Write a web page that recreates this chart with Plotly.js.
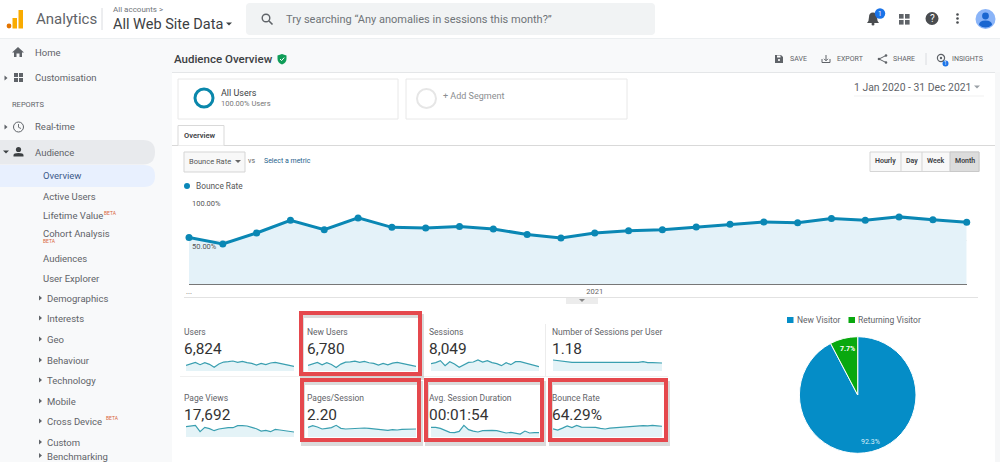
<!DOCTYPE html>
<html><head><meta charset="utf-8">
<script src="https://cdn.plot.ly/plotly-3.0.1.min.js"></script>
<style>html,body{margin:0;padding:0;background:#fff;overflow:hidden}#g{width:1000px;height:462px}</style>
</head><body><div id="g"></div>
<script>
// ---- chart data ----
const bounceRate = [53.8,46.2,59,73.6,62.8,76.4,65.5,64.8,66.6,63.6,57.3,53.1,59,61.6,62.8,65.9,69,71.7,70.9,75.6,73.6,77.6,74.4,71.3];
const users = [209,271,320,234,308,246,135,258,332,345,369,320,357,308,283,221,283,234,295,320,271,246,209,172];
const newUsers = [205,268,315,230,305,242,132,255,330,340,365,318,352,305,280,218,280,230,292,318,268,243,205,170];
const sessions = [315,358,443,229,400,300,157,272,372,386,472,386,443,358,315,229,358,272,400,400,343,286,243,186];
const sessionsPerUser = [1.53,1.44,1.39,1.25,1.20,1.20,1.20,1.20,1.20,1.16,1.16,1.16,1.16,1.11,1.11,1.11,1.11,1.11,1.20,1.30,1.16,1.16,1.16,1.11];
const pageViews = [918,1006,1036,474,858,740,562,710,799,829,829,1006,1006,977,858,740,533,592,474,681,622,562,474,444];
const pagesPerSession = [2.44,2.87,2.53,2.02,2.19,2.36,2.95,2.19,2.02,2.11,2.28,2.28,2.28,2.19,2.11,2.02,1.85,1.69,1.85,1.77,1.94,1.94,2.02,2.02];
const avgDuration = [183,183,164,120,88,82,107,221,139,113,95,120,126,126,120,101,76,88,69,57,113,76,82,82];
const months = bounceRate.map((_,i)=>i);
const xTickVals = [0,12];
const xTickText = ['...','2021'];
const yGridVals = [50,100];
const yGridText = ['50.00%','100.00%'];
const pieLabels = ['New Visitor','Returning Visitor'];
const pieValues = [92.3,7.7];
const metricNames = ['Users','New Users','Sessions','Number of Sessions per User','Page Views','Pages/Session','Avg. Session Duration','Bounce Rate'];
const metricTotals = ['6,824','6,780','8,049','1.18','17,692','2.20','00:01:54','64.29%'];
const metricSeries = [users,newUsers,sessions,sessionsPerUser,pageViews,pagesPerSession,avgDuration,bounceRate];
const metricMax = [703,703,817,2.64,1691,4.8,361,126];
const navTop = ['Home','Customisation','Real-time','Audience'];
const navSub = ['Overview','Active Users','Lifetime Value','Cohort Analysis','Audiences','User Explorer'];
const navDeep = ['Demographics','Interests','Geo','Behaviour','Technology','Mobile','Cross Device','Custom','Benchmarking'];
const rangeButtons = ['Hourly','Day','Week','Month'];
const pieColors = ['#058dc7','#09a80f'];

// ---- page furniture helpers (pixel coordinates on the overlay axes) ----
const shapes=[], notes=[];
const base={xref:'x',yref:'y',layer:'below'};
const rect=(x0,y0,x1,y1,fill,line,lw)=>shapes.push({...base,type:'rect',x0,y0,x1,y1,fillcolor:fill||'rgba(0,0,0,0)',line:{color:line||'rgba(0,0,0,0)',width:lw||0}});
const circ=(cx,cy,r,fill,line,lw)=>shapes.push({...base,type:'circle',x0:cx-r,y0:cy-r,x1:cx+r,y1:cy+r,fillcolor:fill||'rgba(0,0,0,0)',line:{color:line||'rgba(0,0,0,0)',width:lw||0}});
const path=(d,fill,line,lw)=>shapes.push({...base,type:'path',path:d,fillcolor:fill||'rgba(0,0,0,0)',line:{color:line||'rgba(0,0,0,0)',width:lw||0}});
const seg=(x0,y0,x1,y1,c,w)=>shapes.push({...base,type:'line',x0,y0,x1,y1,line:{color:c,width:w||1}});
const T=(text,x,y,size,color,o)=>notes.push({xref:'x',yref:'y',x,y,text,showarrow:false,xanchor:'left',yanchor:'middle',borderpad:0,borderwidth:0,
  font:{family:'Roboto, sans-serif',size,color:color||'#5f6368'},...(o||{})});
const triR=(x,y)=>path(`M${x-1.5} ${y-2.5}L${x+1.5} ${y}L${x-1.5} ${y+2.5}Z`,'#5f6368');
const triD=(x,y,c)=>path(`M${x-3} ${y-1.5}L${x+3} ${y-1.5}L${x} ${y+1.5}Z`,c||'#5f6368');

// backgrounds
rect(0,38,172,462,'#f8f9fa');
rect(172,38,1000,72,'#f8f9fa');
rect(995,72,1000,462,'#f6f7f8');
seg(0,38.5,1000,38.5,'#eceff1',1);
seg(172,72.5,995,72.5,'#e4e6e8',1);
path('M0 140H143Q155 140 155 152Q155 164.5 143 164.5H0Z','#e8eaed');
path('M0 165H144Q155 165 155 176Q155 187 144 187H0Z','#e8f0fe');

// top bar
circ(9,26,2.4,'#e37400');
rect(12.5,18,17,28.5,'#f9ab00');
rect(18.5,10,23,28.5,'#f9ab00');
T('Analytics',36,19,15,'#5f6368');
seg(102,8,102,30,'#dadce0',1);
T('All accounts &gt;',113,9,8,'#70757a');
T('All Web Site Data',113,24,14.5,'#3c4043');
triD(229,24,'#3c4043');
path('M250 3H651Q655 3 655 7V31Q655 35 651 35H250Q246 35 246 31V7Q246 3 250 3Z','#f1f3f4');
circ(266,18,3.8,null,'#5f6368',1.4);
seg(269,21,272.5,24.5,'#5f6368',1.6);
T('Try searching “Any anomalies in sessions this month?”',286,19,11,'#6f7478');
// right icons
path('M867 23Q869 21 869 17Q869 12.5 873 12.5Q877 12.5 877 17Q877 21 879 23Z','#4a4d50');
circ(873,24,1.5,'#4a4d50');
circ(880,13.5,5.2,'#1a73e8');
T('1',880,13.5,6.5,'#fff',{xanchor:'center'});
[[899,14],[905,14],[899,20],[905,20]].forEach(p=>rect(p[0],p[1],p[0]+4.6,p[1]+4.6,'#5f6368'));
circ(932,18.5,6.5,'#4a4d50');
T('?',932,18.5,10,'#fff',{xanchor:'center'});
[14.5,18.5,22.5].forEach(y=>circ(957.5,y,1.3,'#4a4d50'));
circ(985.5,19,10,'#8ab4f8');
circ(985.5,16,3.4,'#1a66d0');
path('M979 25Q979 20.5 985.5 20.5Q992 20.5 992 25Q989 27.5 985.5 27.5Q982 27.5 979 25Z','#1a66d0');

// sidebar
path('M18 47L24 52.5H22V57H19.5V53.5H16.5V57H14V52.5H12Z','#5f6368');
[[14,73],[19,73],[14,78],[19,78]].forEach(p=>rect(p[0],p[1],p[0]+4,p[1]+4,'#5f6368'));
circ(18.5,127,5,null,'#5f6368',1);
path('M18.5 124V127.3L21 128.5',null,'#5f6368',0.9);
circ(18.5,149.5,2.6,'#3c4043');
path('M13.5 156.5V155Q13.5 153 18.5 153Q23.5 153 23.5 155V156.5Z','#3c4043');
triR(6,78); triR(6,127); triD(6,152,'#3c4043');
[52,77.5,126.5,152].forEach((y,i)=>T(navTop[i],35,y,9.5,'#5f6368'));
T('REPORTS',12,104,7.5,'#5f6368');
[175.5,196.5,215.5,233.5,258,278].forEach((y,i)=>T(navSub[i],43,y,9.5,i===0?'#3c5a8a':'#5f6368'));
[299,319,340,361,381,402,422,443,456.5].forEach((y,i)=>{T(navDeep[i],47,y-0.5,9.5,'#5f6368');triR(40.5,y-1);});
T('BETA',104,213,5,'#d9673a'); T('BETA',43,241,5,'#d9673a'); T('BETA',106,418,5,'#d9673a');

// title row
T('Audience Overview',174,59,11.5,'#3c4043',{font:{family:'Roboto, sans-serif',size:11.5,color:'#3c4043',weight:500}});
path('M282 54L286.5 55.5V59Q286.5 62.5 282 64.5Q277.5 62.5 277.5 59V55.5Z','#0f9d58');
path('M280 59L281.6 60.6L284.2 57.6',null,'#fff',1);
path('M775 55H781L783 57V63H775Z','#5f6368'); rect(777,55.5,780.5,57.5,'#fff'); circ(779,60,1.1,'#fff');
T('SAVE',790,59,7,'#5f6368');
path('M822 59V62.5H830V59',null,'#5f6368',1); seg(826,55,826,60.5,'#5f6368',1); path('M824 58.8L826 60.8L828 58.8',null,'#5f6368',1);
T('EXPORT',837,59,7,'#5f6368');
path('M886 55.5L879 59L886 62.5',null,'#5f6368',1); circ(886,55.5,1.3,'#5f6368'); circ(879,59,1.3,'#5f6368'); circ(886,62.5,1.3,'#5f6368');
T('SHARE',893,59,7,'#5f6368');
seg(926,53,926,65,'#dadce0',1);
circ(941,58,3.6,null,'#5f6368',1.2); circ(941,58,1.2,'#5f6368'); circ(945.5,63.5,3,'#1a73e8');
T('1',945.5,63.5,4.5,'#fff',{xanchor:'center'});
T('INSIGHTS',952,59,7,'#5f6368');

// content
rect(172,73,995,462,'#ffffff');
T('1 Jan 2020 - 31 Dec 2021',854,87,10.4,'#5f6368');
triD(977,87,'#9aa0a6');
seg(854,96,984,96,'#f1f1f1',1);
rect(178,79,398,119,'#fff','#e8e8e8',1);
rect(406,79,627,119,'#fff','#e8e8e8',1);
circ(204,98,9,null,'#0a87ab',3);
T('All Users',221,93,9,'#3c4043');
T('100.00% Users',221,103,7.5,'#777');
circ(426.5,98.5,9.5,null,'#e6e6e6',2);
T('+ Add Segment',443,96,9,'#8a8d90');
seg(172,145.5,995,145.5,'#d9d9d9',1);
path('M178 145.5V125.5H224V145.5','#fff','#d9d9d9',1);
T('Overview',184,135,7.5,'#3c4043',{font:{family:'Roboto, sans-serif',size:7.5,color:'#3c4043',weight:600}});
rect(184,152,245,172,'#f8f8f8','#d5d5d5',1);
T('Bounce Rate',189,161,7.5,'#555');
triD(238,161.5,'#666');
T('vs',248,161,7,'#666');
T('Select a metric',264,161,7,'#245f8c');
rect(870,152,979,171.5,'#f8f8f8','#d5d5d5',1);
rect(950,152,979,171.5,'#dcdcdc','#c8c8c8',1);
[901,922].forEach(x=>seg(x,152,x,171.5,'#d5d5d5',1));
[885.5,911.5,936,964.5].forEach((x,i)=>T(rangeButtons[i],x,161,7,'#3c4043',{xanchor:'center',font:{family:'Roboto, sans-serif',size:7,color:'#3c4043',weight:600}}));
circ(187,186,3,'#0a87b8');
T('Bounce Rate',196,186,8.3,'#555');
seg(184,297.5,978,297.5,'#e2e2e2',1);
rect(566,298,598,304,'#ececec');
triD(582,300.5,'#888');
seg(545.5,324,545.5,376,'#ececec',1);
seg(180,376.5,668,376.5,'#f0f0f0',1);

// metric labels and totals, highlight frames
const cellX=[184,307,429,552];
metricNames.forEach((n,i)=>{
  const c=i%4, rowY=i<4?0:66;
  T(n,cellX[c],332+rowY,8.5,'#5f6368');
  T(metricTotals[i],cellX[c],349+rowY,15.4,'#333');
});
[[301,313,420,374],[302,380,419,440],[426,380,542,440],[550,380,666,440]].forEach(b=>{
  rect(b[0]+1,b[1]+3,b[2]+2,b[3]+4,null,'rgba(90,90,90,0.22)',4);
  rect(b[0],b[1],b[2],b[3],null,'#e5484d',4);
});

// pie legend and text
rect(787,317,793.5,323,pieColors[0]); T(pieLabels[0],797,319.5,8.5,'#5f6368');
rect(848.5,317,855,323,pieColors[1]); T(pieLabels[1],858,319.5,8.5,'#5f6368');
T(pieValues[1].toFixed(1)+'%',847,348.5,7,'#fff',{xanchor:'center',font:{family:'Roboto, sans-serif',size:7,color:'#fff',weight:700}});
T(pieValues[0].toFixed(1)+'%',870,442,7,'#d8eef8',{xanchor:'center'});

// y-axis labels inside the main plot
yGridVals.forEach((v,i)=>notes.push({xref:'x2',yref:'y2',x:0,y:v,text:yGridText[i],showarrow:false,xanchor:'left',yanchor:'top',xshift:1,yshift:1,
  font:{family:'Roboto, sans-serif',size:7.5,color:'#555'}}));

// ---- traces ----
const traces=[
  {x:[null],y:[null],xaxis:'x',yaxis:'y',type:'scatter',mode:'markers',showlegend:false,hoverinfo:'skip'},
  {x:months,y:bounceRate,xaxis:'x2',yaxis:'y2',type:'scatter',mode:'lines+markers',fill:'tozeroy',fillcolor:'#e4f2f9',
   line:{color:'#0a87b4',width:3},marker:{color:'#0a87b4',size:7},cliponaxis:false,showlegend:false,hoverinfo:'skip'},
  {type:'pie',labels:pieLabels,values:pieValues,sort:false,direction:'clockwise',rotation:0,
   marker:{colors:pieColors,line:{color:'#ffffff',width:1}},textinfo:'none',hoverinfo:'skip',
   domain:{x:[799.4/1000,916/1000],y:[1-453.3/462,1-336.7/462]},showlegend:false}
];
const layout={width:1000,height:462,margin:{l:0,r:0,t:0,b:0},paper_bgcolor:'#fff',plot_bgcolor:'rgba(0,0,0,0)',
  font:{family:'Roboto, sans-serif'},shapes,annotations:notes,showlegend:false,
  xaxis:{domain:[0,1],range:[0,1000],visible:false,fixedrange:true},
  yaxis:{domain:[0,1],range:[462,0],visible:false,fixedrange:true},
  xaxis2:{anchor:'y2',domain:[0.189,0.9667],range:[0,23],tickvals:xTickVals,ticktext:xTickText,showline:true,linecolor:'#777',linewidth:1,
    showgrid:false,zeroline:false,ticks:'',tickfont:{size:7.5,color:'#666',family:'Roboto, sans-serif'},fixedrange:true},
  yaxis2:{anchor:'x2',domain:[1-284/462,1-197.5/462],range:[0,100],tickvals:yGridVals,showticklabels:false,showgrid:true,gridcolor:'#f0f0f0',zeroline:false,ticks:'',fixedrange:true}
};
const sparkX=[[186,294],[308,416],[431,539],[553,662]];
const sparkY=[[352,371],[418,437]];
metricSeries.forEach((s,i)=>{
  const n=i+3, c=i%4, r=i<4?0:1;
  traces.push({x:months,y:s,xaxis:'x'+n,yaxis:'y'+n,type:'scatter',mode:'lines',fill:'tozeroy',fillcolor:'#e4f3f7',
    line:{color:'#3a9fb0',width:1.2},cliponaxis:false,showlegend:false,hoverinfo:'skip'});
  layout['xaxis'+n]={anchor:'y'+n,domain:[sparkX[c][0]/1000,sparkX[c][1]/1000],range:[0,23],visible:false,fixedrange:true};
  layout['yaxis'+n]={anchor:'x'+n,domain:[1-sparkY[r][1]/462,1-sparkY[r][0]/462],range:[0,metricMax[i]],visible:false,fixedrange:true};
});
Plotly.newPlot('g',traces,layout,{displayModeBar:false,staticPlot:true});
</script></body></html>
